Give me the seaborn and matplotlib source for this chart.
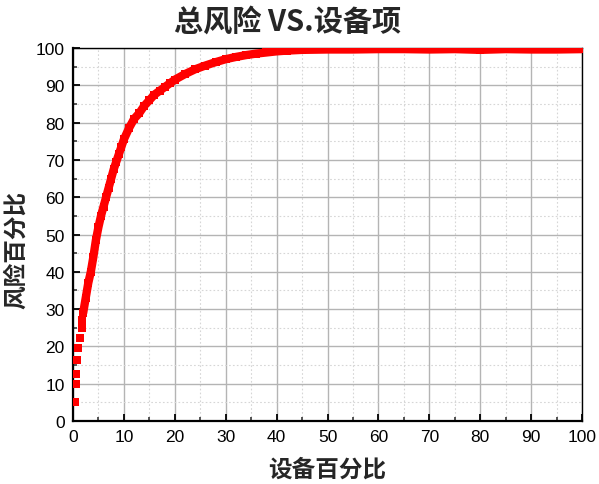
import matplotlib
matplotlib.use("Agg")
import matplotlib.pyplot as plt
import seaborn as sns
import pandas as pd
from matplotlib.ticker import MultipleLocator

# Discrete early points
early_x = [0.3, 0.5, 0.65, 0.7, 1.0, 1.4, 1.7, 1.75]
early_y = [5.0, 10.0, 12.7, 16.3, 19.5, 22.2, 24.8, 27.0]

# Dense part of the cumulative curve
curve_x = [2.0, 2.5, 3.0, 3.5, 4.0, 4.5, 5.0, 5.5, 6.0, 6.5, 7.0, 7.5, 8.0, 8.5,
           9.0, 9.5, 10, 11, 12, 13, 14, 15, 16, 17, 18, 19, 20, 22, 24, 26, 28,
           30, 32, 34, 36, 38, 40, 42, 45, 50, 55, 60, 65, 70, 75, 80, 85, 90, 95, 100]
curve_y = [29, 33, 37, 40, 44, 48.5, 52, 55, 57.5, 60, 62.5, 65, 67.5, 69.5,
           71.5, 73.5, 75.5, 78.5, 81, 82.5, 84.5, 86, 87.5, 88.5, 89.5, 90.5, 91.5,
           93, 94.3, 95.3, 96.2, 97, 97.6, 98.1, 98.5, 98.8, 99.1, 99.3, 99.5, 99.6,
           99.6, 99.7, 99.7, 99.6, 99.7, 99.5, 99.7, 99.6, 99.6, 99.7]

title_text = "总风险 VS.设备项"
xlabel_text = "设备百分比"
ylabel_text = "风险百分比"
ticks = list(range(0, 101, 10))

sns.set_style("ticks")
plt.rcParams['font.family'] = ['Liberation Sans', 'Noto Sans CJK SC', 'DejaVu Sans']

fig = plt.figure(figsize=(5.99, 4.85), dpi=100)
ax = fig.add_axes([73/599, 1-422/485, (582-73)/599, (422-49)/485])

red = "#ff0000"
df_curve = pd.DataFrame({"x": curve_x, "y": curve_y})
df_early = pd.DataFrame({"x": early_x, "y": early_y})

sns.lineplot(data=df_curve, x="x", y="y", ax=ax, color=red, linewidth=6,
             marker="s", markersize=6, markeredgewidth=0, sort=False, zorder=3)
sns.scatterplot(data=df_early, x="x", y="y", ax=ax, color=red, marker="s",
                s=36, linewidth=0, zorder=3)

ax.set_xlim(0, 100)
ax.set_ylim(0, 100)
ax.set_xticks(ticks)
ax.set_yticks(ticks)
ax.xaxis.set_minor_locator(MultipleLocator(5))
ax.yaxis.set_minor_locator(MultipleLocator(5))

ax.grid(which="major", color="#b4b4b4", linewidth=1.0, linestyle="-", zorder=0)
ax.grid(which="minor", color="#d6d6d6", linewidth=0.8, linestyle=(0, (1.5, 2)), zorder=0)
ax.set_axisbelow(True)

for s in ax.spines.values():
    s.set_visible(True)
    s.set_color("black")
    s.set_linewidth(1.0)
ax.spines['left'].set_linewidth(1.6)
ax.spines['bottom'].set_linewidth(1.6)

ax.tick_params(which="major", direction="in", length=5, width=1.3, labelsize=12.5,
               pad=6, top=False, right=False, colors="black")
ax.tick_params(which="minor", direction="in", length=3, width=1.1, top=False, right=False)
for lab in ax.get_xticklabels() + ax.get_yticklabels():
    lab.set_fontfamily(['Liberation Sans', 'DejaVu Sans'])

ax.set_xlabel("")
ax.set_ylabel("")

fig.text(288/599, 1-22/485, title_text, ha="center", va="center", fontsize=21,
         fontweight="bold", family=['Noto Sans CJK SC', 'DejaVu Sans'])
fig.text(327/599, 1-470/485, xlabel_text, ha="center", va="center", fontsize=17,
         fontweight="bold", family=['Noto Sans CJK SC', 'DejaVu Sans'])
fig.text(16/599, 1-250/485, ylabel_text, ha="center", va="center", fontsize=17,
         fontweight="bold", rotation=90, family=['Noto Sans CJK SC', 'DejaVu Sans'])

fig.savefig("out.png", dpi=100)
